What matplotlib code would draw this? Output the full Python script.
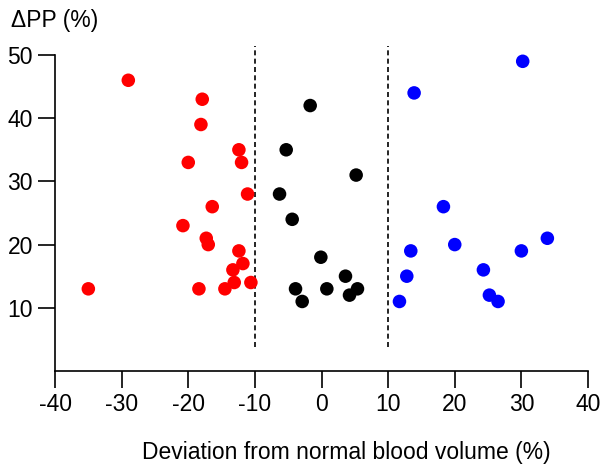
import matplotlib
matplotlib.use("Agg")
import matplotlib.pyplot as plt

plt.rcParams['font.family'] = ['Liberation Sans', 'DejaVu Sans']

# hypovolemic group (red)
red_x = [-29.0, -17.9, -18.1, -12.4, -20.0, -12.0, -11.1, -16.4, -20.8, -17.3,
         -17.0, -12.4, -11.8, -13.3, -13.1, -10.6, -35.0, -18.4, -14.5]
red_y = [46, 43, 39, 35, 33, 33, 28, 26, 23, 21, 20, 19, 17, 16, 14, 14, 13, 13, 13]

# normovolemic group (black)
black_x = [-1.7, -5.3, 5.2, -6.3, -4.4, -0.1, 3.6, -3.9, 0.8, 5.4, 4.2, -2.9]
black_y = [42, 35, 31, 28, 24, 18, 15, 13, 13, 13, 12, 11]

# hypervolemic group (blue)
blue_x = [30.2, 13.9, 18.3, 33.9, 20.0, 13.4, 30.0, 24.3, 12.8, 25.2, 26.5, 11.7]
blue_y = [49, 44, 26, 21, 20, 19, 19, 16, 15, 12, 11, 11]

x_ticks = [-40, -30, -20, -10, 0, 10, 20, 30, 40]
y_ticks = [10, 20, 30, 40, 50]
cutoffs = [-10, 10]

fig = plt.figure(figsize=(6.04, 4.68), dpi=100)
ax = fig.add_axes([0.0911, 0.2073, 0.8824, 0.6752])

for xs, ys, c in [(red_x, red_y, '#ff0000'), (black_x, black_y, '#000000'), (blue_x, blue_y, '#0000ff')]:
    ax.scatter(xs, ys, s=95, color=c, edgecolors='none', clip_on=False, zorder=3)

for c in cutoffs:
    ax.plot([c, c], [3.8, 51.5], color='black', linestyle=(0, (3, 2)), linewidth=1.2, clip_on=False)

ax.set_xlim(-40, 40)
ax.set_ylim(0, 50)
ax.set_xticks(x_ticks)
ax.set_xticklabels([str(t) for t in x_ticks])
ax.set_yticks(y_ticks)
ax.spines['top'].set_visible(False)
ax.spines['right'].set_visible(False)
for s in ['left', 'bottom']:
    ax.spines[s].set_linewidth(1.2)
ax.tick_params(axis='both', length=12, width=1.2, labelsize=16.5, pad=4)

fig.text(0.019, 0.957, 'ΔPP (%)', fontsize=16.5, va='center', ha='left')
fig.text(0.573, 0.034, 'Deviation from normal blood volume (%)', fontsize=16.5, va='center', ha='center')

fig.savefig('out.png', dpi=100)
